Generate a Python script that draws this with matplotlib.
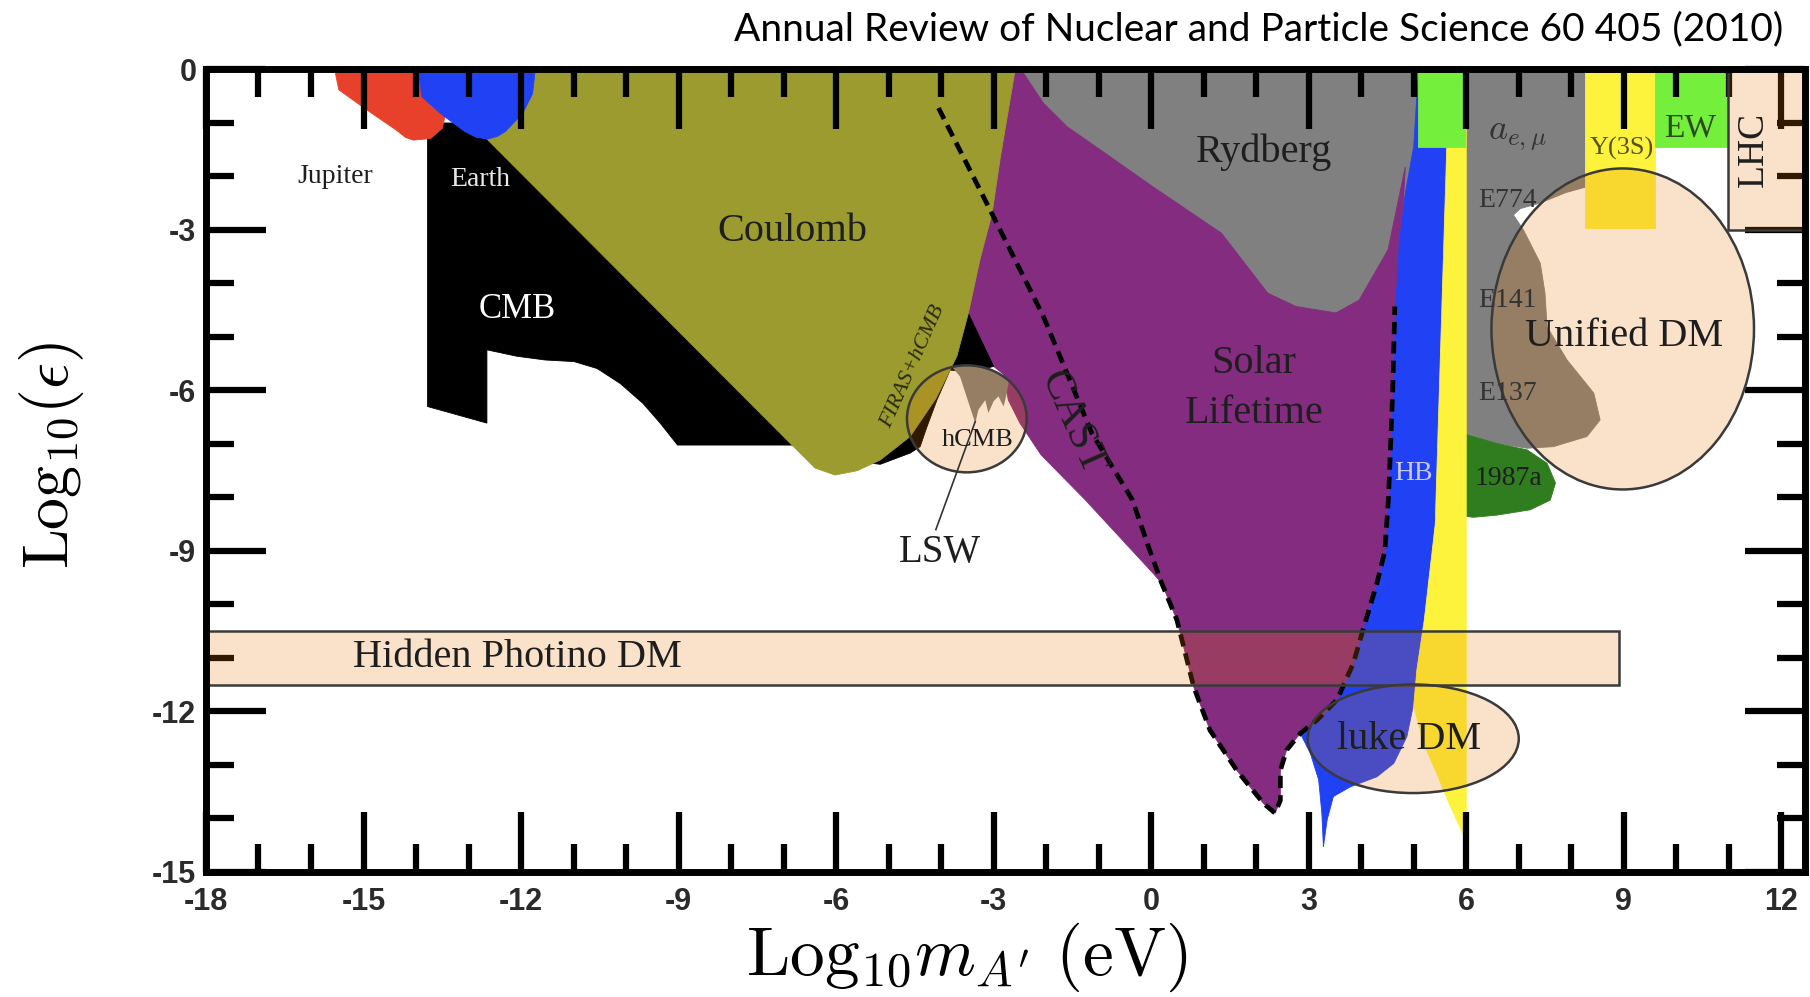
import numpy as np
import matplotlib.pyplot as plt
from matplotlib.patches import Polygon, Ellipse, Rectangle

plt.rcParams['mathtext.fontset'] = 'cm'

# excluded regions in the (log10 m_A' [eV], log10 eps) plane
jupiter_x = [-15.53, -15.53, -15.47, -14.93, -14.38, -14.2, -14.05, -13.72, -13.5, -13.45, -13.4]
jupiter_y = [0, -0.1, -0.38, -0.76, -1.13, -1.27, -1.32, -1.29, -1.1, -0.88, 0]

earth_x = [-13.94, -13.94, -13.89, -13.5, -13.07, -12.85, -12.63, -12.45, -12.3, -11.97, -11.78, -11.73]
earth_y = [0, -0.1, -0.51, -0.85, -1.16, -1.27, -1.3, -1.25, -1.16, -0.82, -0.45, 0]

cmb_x = [-13.78, -11.5, -4.5, -3.6, -3.48, -3.0, -3.4, -3.83, -4.08, -4.27, -4.4, -4.59, -5.16,
         -5.8, -6.84, -9.02, -9.35, -9.68, -10.11, -10.55, -10.99, -11.54, -12.08, -12.65, -12.65, -13.78]
cmb_y = [-1.0, -1.0, -3.5, -4.3, -4.56, -5.55, -5.65, -5.62, -6.18, -6.68, -7.05, -7.17, -7.38,
         -7.3, -7.02, -7.02, -6.61, -6.24, -5.87, -5.59, -5.46, -5.43, -5.36, -5.24, -6.61, -6.3]

coulomb_x = [-12.2, -2.59, -2.88, -3.03, -3.26, -3.48, -3.7, -4.1, -4.59, -5.16, -5.6, -6.02, -6.4,
             -6.84, -12.63, -12.9]
coulomb_y = [0, 0, -1.69, -2.69, -3.55, -4.55, -5.36, -6.15, -6.86, -7.3, -7.5, -7.58, -7.45,
             -7.02, -1.32, -1.0]

rydberg_x = [-2.5, 5.15, 5.09, 5.0, 4.84, 4.75, 4.51, 3.96, 3.52, 2.76, 2.22, 1.34, 0.03, -0.97, -1.6, -2.05, -2.5]
rydberg_y = [0, 0, -0.3, -1.44, -2.31, -3.3, -3.45, -4.4, -4.63, -4.5, -4.25, -3.13, -2.26, -1.57, -1.14, -0.7, -0.1]

solar_x = [-2.8, -2.43, -2.43, -2.05, -1.6, -0.97, 0.03, 1.34, 2.22, 2.76, 3.52, 3.96, 4.51, 4.84,
           4.8, 4.71, 4.64, 4.6, 4.52, 4.45, 4.3, 4.05, 3.85, 3.54, 3.16, 2.84, 2.58, 2.46, 2.46, 2.36,
           2.14, 1.63, 1.12, 0.81, 0.49, 0.2, 0.03, -1.25, -2.1, -2.5, -2.72, -2.81, -3.0, -3.6, -3.2]
solar_y = [0, 0, -0.07, -0.63, -1.07, -1.5, -2.19, -3.06, -4.18, -4.43, -4.55, -4.31, -3.37, -1.82,
           -2.5, -3.25, -4.43, -6.0, -8.0, -9.0, -9.6, -10.42, -11.1, -11.78, -12.16, -12.41, -12.72, -13.1, -13.66, -13.9,
           -13.72, -13.1, -12.35, -11.54, -10.29, -9.6, -9.41, -8.05, -7.2, -6.61, -6.18, -5.7, -5.55, -4.4, -1.5]

# CAST boundary (dashed)
cast_x = [-4.05, -3.07, -2.05, -1.13, -0.36, -0.03, 0.2, 0.49, 0.81, 1.12, 1.63, 2.14, 2.36, 2.46, 2.46,
          2.58, 2.84, 3.16, 3.54, 3.85, 4.05, 4.3, 4.45, 4.52, 4.6, 4.64]
cast_y = [-0.72, -2.62, -4.62, -6.8, -8.04, -8.98, -9.6, -10.29, -11.54, -12.35, -13.1, -13.72, -13.9, -13.66, -13.1,
          -12.72, -12.41, -12.16, -11.78, -11.1, -10.42, -9.6, -9.0, -8.0, -6.0, -4.43]

hb_x = [5.09, 5.0, 4.84, 4.71, 4.6, 4.5, 4.4, 4.3, 4.1, 3.8, 3.4, 2.9, 2.84, 3.03, 3.19, 3.25, 3.28, 3.35,
        3.47, 3.79, 4.3, 4.62, 4.87, 5.0, 5.06, 5.2, 5.41, 5.63, 5.63]
hb_y = [0, -1.44, -2.31, -3.25, -4.43, -6.0, -8.0, -9.0, -9.8, -10.8, -11.6, -12.25, -12.41, -12.78, -13.28, -13.9, -14.53, -14.03,
        -13.59, -13.41, -13.22, -12.97, -12.47, -11.85, -11.22, -10.3, -8.5, -1.44, 0]

yellow_x = [5.63, 6.0, 6.0, 5.97, 5.7, 5.44, 5.19, 5.0, 5.06, 5.2, 5.41, 5.63]
yellow_y = [0, 0, -14.0, -14.35, -13.78, -13.16, -12.6, -11.9, -11.22, -10.3, -8.5, -1.44]

ae_x = [5.95, 8.3, 8.27, 8.27, 7.9, 7.4, 7.03, 6.9, 7.09, 7.41, 7.5, 7.54, 7.92, 8.43, 8.55, 8.3, 7.66,
        7.16, 6.58, 6.01, 5.95]
ae_y = [0, 0, -1.69, -2.2, -2.3, -2.5, -2.6, -2.72, -3.0, -3.62, -4.18, -4.81, -5.43, -6.05, -6.55, -6.86, -7.05,
        -7.08, -6.99, -6.8, -6.8]

sn1987a_x = [5.95, 6.58, 7.16, 7.54, 7.7, 7.6, 7.22, 6.58, 6.14, 5.95]
sn1987a_y = [-6.8, -6.99, -7.11, -7.36, -7.73, -8.05, -8.23, -8.33, -8.37, -8.35]

lsw_x = [-3.9, -2.6, -2.75, -2.81, -2.91, -3.0, -3.1, -3.16, -3.29, -3.35, -3.64, -3.8]
lsw_y = [-5.2, -5.2, -6.05, -6.3, -6.11, -6.2, -6.42, -6.18, -6.36, -6.61, -5.74, -5.55]

# rectangular bounds: (x0, x1, y0, y1)
green_top = (5.09, 5.98, -1.44, 0)
upsilon = (8.27, 9.6, -2.97, 0)
ew = (9.6, 10.97, -1.44, 0)
lhc = (10.99, 12.9, -3.0, 0)
photino = (-18.5, 8.9, -11.5, -10.5)

# dark matter ellipses: (x, y, width, height)
hcmb_ell = (-3.51, -6.53, 2.28, 2.0)
unified_ell = (8.98, -4.85, 5.0, 6.0)
luke_ell = (4.99, -12.51, 4.02, 2.03)

xticks = [-18, -15, -12, -9, -6, -3, 0, 3, 6, 9, 12]
yticks = [-15, -12, -9, -6, -3, 0]

fig = plt.figure(figsize=(18.1, 9.97), dpi=100)
ax = fig.add_axes([0.1138, 0.1254, 0.8834, 0.8049])
ax.set_xlim(-18, 12.45)
ax.set_ylim(-15, 0)


def poly(xs, ys, color, z):
    ax.add_patch(Polygon(np.column_stack([xs, ys]), closed=True, facecolor=color,
                         edgecolor=color, lw=0.6, zorder=z))


def rect(b, color, z):
    x0, x1, y0, y1 = b
    ax.add_patch(Rectangle((x0, y0), x1 - x0, y1 - y0, facecolor=color,
                           edgecolor=color, lw=0.6, zorder=z))


OLIVE = '#9b9b2f'
GRAY = '#808080'
PURPLE = '#842d80'
BLUE = '#2141f5'
YELLOW = '#fef33c'
LGREEN = '#74ef3b'
DGREEN = '#2f7d1f'
RED = '#e8412b'
OVER = (230 / 255, 120 / 255, 0, 0.21)
EDGE = '#3a3a3a'

poly(rydberg_x, rydberg_y, GRAY, 1.0)
poly(ae_x, ae_y, GRAY, 1.0)
poly(sn1987a_x, sn1987a_y, DGREEN, 1.01)
poly(hb_x, hb_y, BLUE, 1.05)
poly(yellow_x, yellow_y, YELLOW, 1.08)
poly(solar_x, solar_y, PURPLE, 1.1)
poly(cmb_x, cmb_y, 'black', 1.15)
poly(coulomb_x, coulomb_y, OLIVE, 1.2)
poly(jupiter_x, jupiter_y, RED, 1.25)
poly(earth_x, earth_y, BLUE, 1.26)
rect(green_top, LGREEN, 1.3)
rect(upsilon, YELLOW, 1.3)
rect(ew, LGREEN, 1.3)

ax.plot(cast_x, cast_y, color='black', lw=3.4, linestyle=(0, (2.6, 1.5)), zorder=1.5)

# peach overlays
ax.add_patch(Rectangle((photino[0], photino[2]), photino[1] - photino[0], photino[3] - photino[2],
                       facecolor=OVER, edgecolor=EDGE, lw=1.8, zorder=1.6))
ax.add_patch(Rectangle((lhc[0], lhc[2]), lhc[1] - lhc[0], lhc[3] - lhc[2],
                       facecolor=OVER, edgecolor=EDGE, lw=1.8, zorder=1.6))
for ex, ey, ew_, eh in [hcmb_ell, unified_ell, luke_ell]:
    e = Ellipse((ex, ey), ew_, eh, facecolor=OVER, edgecolor=EDGE, lw=1.8, zorder=1.6)
    ax.add_patch(e)
    if (ex, ey) == hcmb_ell[:2]:
        hcmb_patch = e

lsw = Polygon(np.column_stack([lsw_x, lsw_y]), closed=True, facecolor=GRAY, edgecolor='none', zorder=1.4)
ax.add_patch(lsw)
lsw.set_clip_path(hcmb_patch)

ax.plot([-4.1, -3.35], [-8.6, -6.58], color='#333333', lw=1.2, zorder=1.7)

serif = ['Liberation Serif', 'DejaVu Serif']
TXT = '#1e1e1e'


def label(x, y, s, size, color=TXT, rot=0, style='normal'):
    ax.text(x, y, s, fontsize=size, color=color, family=serif, ha='center', va='center',
            rotation=rot, style=style, zorder=3)


label(-15.54, -2.0, 'Jupiter', 20)
label(-12.77, -2.05, 'Earth', 20, color='#e8e8e8')
label(-6.84, -3.02, 'Coulomb', 29)
label(-12.07, -4.49, 'CMB', 25, color='white')
label(-4.53, -5.56, 'FIRAS+hCMB', 16, color='#2a2a10', rot=66, style='italic')
label(-3.31, -6.93, 'hCMB', 19)
label(-4.02, -9.02, 'LSW', 28)
label(-1.5, -6.6, 'CAST', 31, rot=-66)
label(2.15, -1.55, 'Rydberg', 29)
label(1.96, -5.5, 'Solar', 29)
label(1.96, -6.43, 'Lifetime', 29)
label(5.0, -7.55, 'HB', 20, color='#c8c8ff')
label(6.81, -7.64, '1987a', 20)
label(6.97, -1.26, r'$a_{e,\mu}$', 26, color='#333333')
label(6.78, -2.44, 'E774', 20, color='#333333')
label(6.78, -4.31, 'E141', 20, color='#333333')
label(6.78, -6.05, 'E137', 20, color='#333333')
label(8.97, -1.47, 'Y(3S)', 19, color='#55531a')
label(10.27, -1.1, 'EW', 24, color='#2f4a22')
label(11.47, -1.5, 'LHC', 27, rot=90)
label(9.0, -4.99, 'Unified DM', 29)
label(-12.07, -11.0, 'Hidden Photino DM', 29)
label(4.92, -12.52, 'luke DM', 29)

# axes frame and ticks
for s in ax.spines.values():
    s.set_linewidth(5)
ax.set_xticks(xticks)
ax.set_yticks(yticks)
ax.set_xticks(range(-18, 13), minor=True)
ax.set_yticks(range(-15, 1), minor=True)
ax.tick_params(which='both', direction='in', top=True, right=True, width=4.5, color='black')
ax.tick_params(which='major', length=43)
ax.tick_params(which='minor', length=20)
ax.tick_params(axis='x', which='major', pad=11)
ax.tick_params(axis='y', which='major', pad=7)
tick_font = dict(family='Liberation Sans', weight='bold', size=22, color='#2b2b2b')
ax.set_xticklabels([str(v) for v in xticks], **tick_font)
ax.set_yticklabels([str(v) for v in yticks], **tick_font)

fig.text(0.0287, 0.543, r'$\mathrm{Log}_{10}(\epsilon)$', fontsize=46, rotation=90, ha='center', va='center')
fig.text(0.534, 0.04, r'$\mathrm{Log}_{10} m_{A^{\prime}}\ (\mathrm{eV})$', fontsize=50, ha='center', va='center')
fig.text(0.985, 0.971, 'Annual Review of Nuclear and Particle Science 60 405 (2010)', fontsize=28,
         family='Lato', ha='right', va='center')

fig.savefig('out.png', dpi=100)
